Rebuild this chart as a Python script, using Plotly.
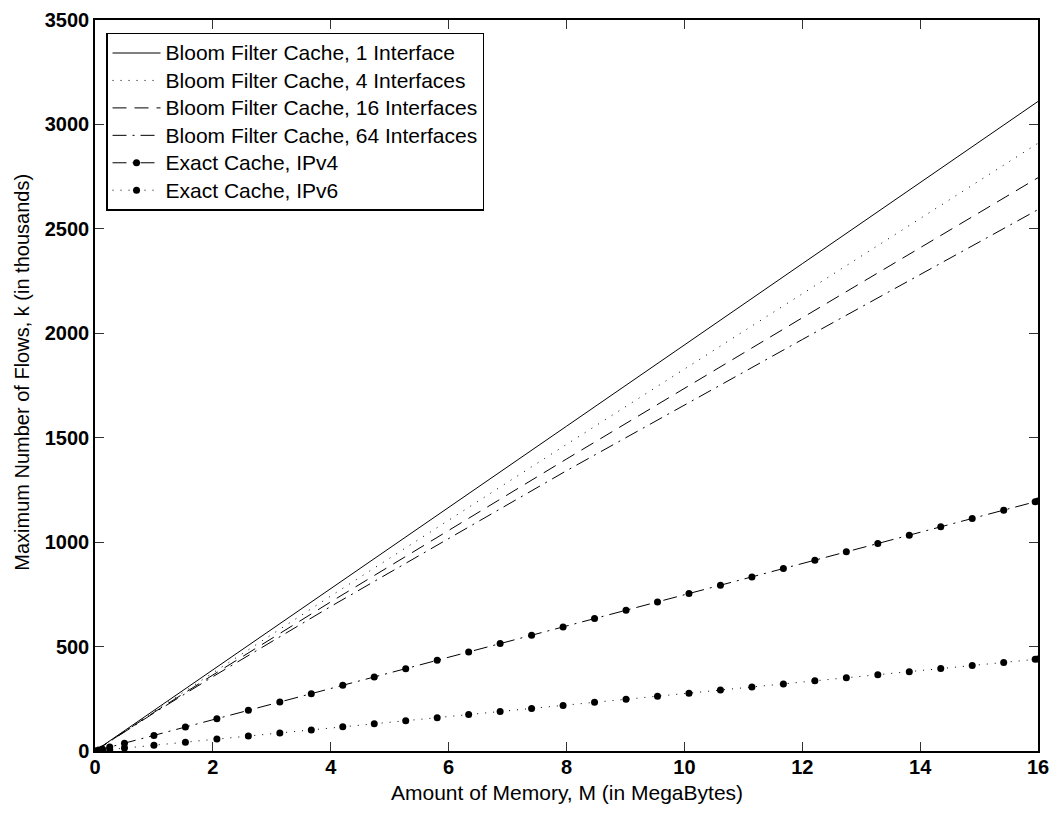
import plotly.graph_objects as go

# ---- data ----
bloom_x = [0, 0.5, 1, 2, 4, 8, 12, 16]
bloom_1 = [0, 97, 194, 389, 778, 1555, 2333, 3110]
bloom_4 = [0, 95, 189, 374, 742, 1468, 2190, 2910]
bloom_16 = [0, 93, 185, 364, 714, 1398, 2074, 2745]
bloom_64 = [0, 92, 182, 356, 692, 1342, 1970, 2592]

exact_x = [0, 0.0625, 0.125, 0.25, 0.5, 1.0, 1.534, 2.068, 2.602, 3.136, 3.67,
           4.204, 4.738, 5.272, 5.806, 6.34, 6.874, 7.408, 7.942, 8.476, 9.01,
           9.544, 10.078, 10.612, 11.146, 11.68, 12.214, 12.748, 13.282, 13.816,
           14.35, 14.884, 15.418, 15.952, 16.0]
exact_ipv4 = [0, 4.7, 9.4, 18.7, 37.4, 74.8, 114.7, 154.7, 194.6, 234.6, 274.5,
              314.5, 354.4, 394.3, 434.3, 474.2, 514.2, 554.1, 594.1, 634.0, 674.0,
              713.9, 753.8, 793.8, 833.7, 873.7, 913.6, 953.6, 993.5, 1033.4,
              1073.4, 1113.3, 1153.3, 1193.2, 1196.8]
exact_ipv6 = [0, 1.7, 3.4, 6.9, 13.8, 27.5, 42.2, 56.9, 71.6, 86.2, 100.9,
              115.6, 130.3, 145.0, 159.7, 174.4, 189.0, 203.7, 218.4, 233.1, 247.8,
              262.5, 277.1, 291.8, 306.5, 321.2, 335.9, 350.6, 365.3, 379.9,
              394.6, 409.3, 424.0, 438.7, 440.0]

x_ticks = [0, 2, 4, 6, 8, 10, 12, 14, 16]
y_ticks = [0, 500, 1000, 1500, 2000, 2500, 3000, 3500]

names = ["Bloom Filter Cache, 1 Interface",
         "Bloom Filter Cache, 4 Interfaces",
         "Bloom Filter Cache, 16 Interfaces",
         "Bloom Filter Cache, 64 Interfaces",
         "Exact Cache, IPv4",
         "Exact Cache, IPv6"]

x_title = "Amount of Memory, M (in MegaBytes)"
y_title = "Maximum Number of Flows, k (in thousands)"

FONT = "Liberation Sans, Arial, sans-serif"


def legend_label(s):
    return '<span style="font-size:21px">' + s + '</span>'


fig = go.Figure()
bloom_series = [bloom_1, bloom_4, bloom_16, bloom_64]
dashes = ["solid", "1px,7px", "14px,8px", "14px,6px,2px,6px"]
for name, ys, d in zip(names[:4], bloom_series, dashes):
    fig.add_trace(go.Scatter(x=bloom_x, y=ys, mode="lines", name=legend_label(name),
                             line=dict(color="black", width=1, dash=d)))

fig.add_trace(go.Scatter(x=exact_x, y=exact_ipv4, mode="lines+markers",
                         name=legend_label(names[4]),
                         line=dict(color="black", width=1, dash="14px,6px,2px,6px"),
                         marker=dict(color="black", size=7, symbol="circle")))
fig.add_trace(go.Scatter(x=exact_x, y=exact_ipv6, mode="lines+markers",
                         name=legend_label(names[5]),
                         line=dict(color="black", width=1, dash="1px,7px"),
                         marker=dict(color="black", size=7, symbol="circle")))

axis_common = dict(showline=True, linecolor="black", linewidth=1.5, mirror="ticks",
                   ticks="inside", ticklen=9, tickwidth=1, tickcolor="#333",
                   showgrid=False, zeroline=False,
                   tickfont=dict(family=FONT, size=20, color="black", weight="bold"))

fig.update_layout(
    width=1059, height=814,
    margin=dict(l=95, r=21, t=9, b=63),
    paper_bgcolor="white", plot_bgcolor="white",
    font=dict(family=FONT, color="black"),
    xaxis=dict(range=[0, 16], tickvals=x_ticks, ticktext=[str(v) for v in x_ticks],
               ticklabelstandoff=-3, **axis_common),
    yaxis=dict(range=[0, 3500], tickvals=y_ticks, ticktext=[str(v) for v in y_ticks],
               **axis_common),
    legend=dict(x=0.0117, y=0.9825, xanchor="left", yanchor="top",
                bgcolor="white", bordercolor="black", borderwidth=1.5,
                font=dict(family=FONT, size=18.8, color="black"),
                tracegroupgap=0, itemwidth=48),
    showlegend=True,
    annotations=[
        dict(text=x_title, xref="paper", yref="paper", x=0.5, y=0,
             xanchor="center", yanchor="middle", yshift=-41, showarrow=False,
             font=dict(family=FONT, size=21, color="black")),
        dict(text=y_title, xref="paper", yref="paper", x=0, y=0.5175,
             xanchor="center", yanchor="middle", xshift=-73, showarrow=False,
             textangle=-90, font=dict(family=FONT, size=20, color="black")),
    ],
)

# remove the default 8px page margin so the figure fills the window exactly
fig.write_html("out.html",
               config=dict(displayModeBar=False),
               post_script="document.body.style.margin='0';"
                           "document.body.style.overflow='hidden';")
